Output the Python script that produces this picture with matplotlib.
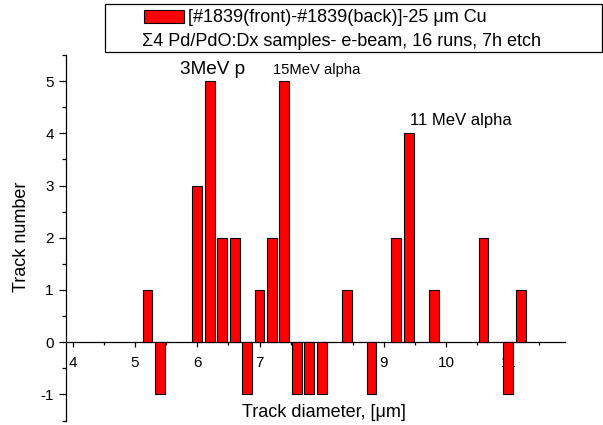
import matplotlib
matplotlib.use("Agg")
import matplotlib.pyplot as plt
from matplotlib.ticker import MultipleLocator
from matplotlib.patches import Rectangle

plt.rcParams["font.family"] = ["Liberation Sans", "DejaVu Sans"]
plt.rcParams["axes.unicode_minus"] = False

# track diameter bin centres (um) and net track counts (front - back)
diameters = [5.2, 5.4, 6.0, 6.2, 6.4, 6.6, 6.8, 7.0, 7.2, 7.4, 7.6, 7.8, 8.0,
             8.4, 8.8, 9.2, 9.4, 9.8, 10.6, 11.0, 11.2]
counts = [1, -1, 3, 5, 2, 2, -1, 1, 2, 5, -1, -1, -1,
          1, -1, 2, 4, 1, 2, -1, 1]
x_ticks = [4, 5, 6, 7, 8, 9, 10, 11]
y_ticks = [-1, 0, 1, 2, 3, 4, 5]
legend_labels = ["[#1839(front)-#1839(back)]-25 \u03bcm Cu",
                 "\u03a34 Pd/PdO:Dx samples- e-beam, 16 runs, 7h etch"]

W, H = 603, 425
fig = plt.figure(figsize=(W / 100, H / 100), dpi=100)
ax = fig.add_axes([66 / W, 1 - 420.5 / H, (565 - 66) / W, (420.5 - 55) / H])

ax.bar(diameters, counts, width=0.16, color="#FF0000",
       edgecolor="black", linewidth=0.8, zorder=3)

ax.set_xlim(3.89, 11.91)
ax.set_ylim(-1.5, 5.5)
ax.spines["top"].set_visible(False)
ax.spines["right"].set_visible(False)
ax.spines["bottom"].set_position(("data", 0))
for sp in ax.spines.values():
    sp.set_linewidth(0.9)

ax.set_xticks(x_ticks)
ax.xaxis.set_minor_locator(MultipleLocator(0.5))
ax.set_yticks(y_ticks)
ax.yaxis.set_minor_locator(MultipleLocator(0.5))
ax.tick_params(axis="both", which="both", direction="out", width=0.9,
               labelsize=11)
ax.tick_params(axis="x", which="major", length=3.6, pad=6)
ax.tick_params(axis="x", which="minor", length=2.2)
ax.tick_params(axis="y", which="major", length=5, pad=3.8)
ax.tick_params(axis="y", which="minor", length=3)

fig.text(22 / W, 1 - 237 / H, "Track number", rotation=90,
         ha="center", va="center", fontsize=13)
ax.text(8.04, -1.35, "Track diameter, [\u03bcm]",
        ha="center", va="center", fontsize=13)

ax.text(6.25, 5.23, "3MeV p", fontsize=13.7, ha="center", va="center")
ax.text(7.92, 5.21, "15MeV alpha", fontsize=10.6, ha="center", va="center")
ax.text(10.23, 4.25, "11 MeV alpha", fontsize=12, ha="center", va="center")

# legend box drawn in figure pixels
fig.patches.append(Rectangle((105 / W, 1 - 51.7 / H), (602 - 105) / W,
                             47.7 / H, transform=fig.transFigure,
                             facecolor="white", edgecolor="black",
                             linewidth=0.9))
fig.patches.append(Rectangle((144 / W, 1 - 23 / H), 40 / W, 13 / H,
                             transform=fig.transFigure, facecolor="#FF0000",
                             edgecolor="black", linewidth=0.8))
fig.text(188 / W, 1 - 17 / H, legend_labels[0], ha="left", va="center",
         fontsize=13)
fig.text(142 / W, 1 - 41 / H, legend_labels[1], ha="left", va="center",
         fontsize=13)

fig.savefig("out.png", dpi=100, facecolor="white")
